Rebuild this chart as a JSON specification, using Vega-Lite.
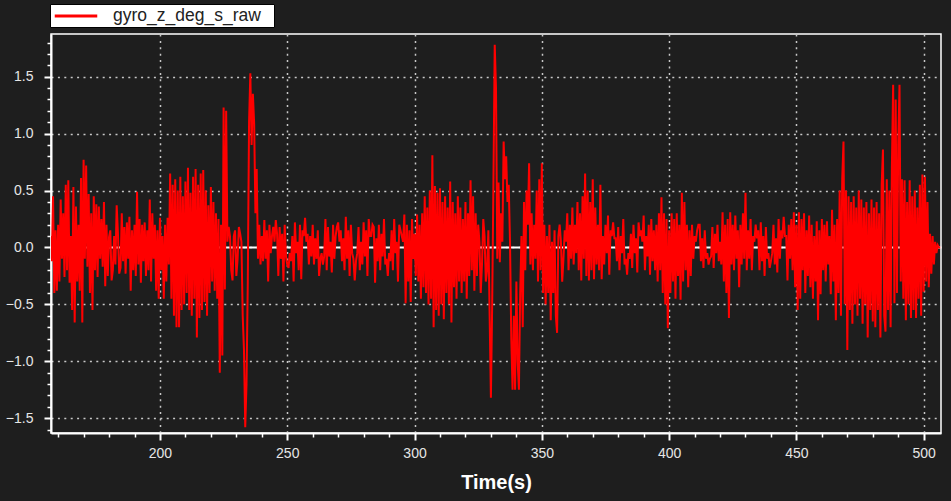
{
"$schema": "https://vega.github.io/schema/vega-lite/v6.json",
"width": 890, "height": 399,
"autosize": {"type": "none"},
"padding": {"left": 51, "top": 34, "right": 10, "bottom": 68},
"background": "#1e1e1e",
"config": {"view": {"stroke": "#ffffff", "strokeWidth": 1.5}, "font": "Liberation Sans"},
"data": {"values": [
{"t":157,"v":0.10},{"t":157.5,"v":-0.12},{"t":158,"v":0.45},{"t":158.5,"v":-0.40},{"t":159,"v":0.15},{"t":159.5,"v":-0.38},{"t":160,"v":0.20},{"t":160.5,"v":-0.30},{"t":161,"v":0.42},{"t":161.5,"v":-0.10},{"t":162,"v":0.30},{"t":162.5,"v":-0.26},{"t":163,"v":0.55},{"t":163.5,"v":-0.20},{"t":164,"v":0.59},{"t":164.5,"v":-0.31},{"t":165,"v":0.10},{"t":165.5,"v":-0.55},{"t":166,"v":0.53},{"t":166.5,"v":-0.66},{"t":167,"v":0.36},{"t":167.5,"v":-0.30},{"t":168,"v":0.20},{"t":168.5,"v":-0.38},{"t":169,"v":0.61},{"t":169.5,"v":-0.66},
{"t":170,"v":0.77},{"t":170.5,"v":-0.10},{"t":171,"v":0.72},{"t":171.5,"v":-0.17},{"t":172,"v":0.47},{"t":172.5,"v":-0.40},{"t":173,"v":0.30},{"t":173.5,"v":-0.55},{"t":174,"v":0.45},{"t":174.5,"v":-0.20},{"t":175,"v":0.38},{"t":175.5,"v":-0.26},{"t":176,"v":0.36},{"t":176.5,"v":-0.10},{"t":177,"v":0.25},{"t":177.5,"v":-0.17},{"t":178,"v":0.40},{"t":178.5,"v":-0.34},{"t":179,"v":0.20},{"t":179.5,"v":-0.25},
{"t":180,"v":0.09},{"t":180.5,"v":0.15},{"t":181,"v":-0.29},{"t":181.5,"v":-0.20},{"t":182,"v":0.10},{"t":182.5,"v":-0.15},{"t":183,"v":0.37},{"t":183.5,"v":0.12},{"t":184,"v":-0.23},{"t":184.5,"v":-0.18},{"t":185,"v":0.30},{"t":185.5,"v":-0.12},{"t":186,"v":0.18},{"t":186.5,"v":-0.23},{"t":187,"v":0.22},{"t":187.5,"v":-0.10},{"t":188,"v":0.27},{"t":188.5,"v":-0.38},{"t":189,"v":0.15},{"t":189.5,"v":-0.20},
{"t":190,"v":0.20},{"t":190.5,"v":-0.25},{"t":191,"v":0.49},{"t":191.5,"v":-0.15},{"t":192,"v":0.25},{"t":192.5,"v":-0.31},{"t":193,"v":0.20},{"t":193.5,"v":-0.12},{"t":194,"v":0.22},{"t":194.5,"v":-0.25},{"t":195,"v":0.15},{"t":195.5,"v":-0.20},{"t":196,"v":0.42},{"t":196.5,"v":-0.30},{"t":197,"v":0.30},{"t":197.5,"v":-0.10},{"t":198,"v":0.20},{"t":198.5,"v":-0.38},{"t":199,"v":0.15},{"t":199.5,"v":-0.45},
{"t":200,"v":0.26},{"t":200.5,"v":-0.20},{"t":201,"v":0.10},{"t":201.5,"v":-0.45},{"t":202,"v":0.20},{"t":202.5,"v":-0.30},{"t":203,"v":0.26},{"t":203.5,"v":-0.15},{"t":204,"v":0.65},{"t":204.5,"v":-0.45},{"t":205,"v":0.55},{"t":205.5,"v":-0.60},{"t":206,"v":0.60},{"t":206.5,"v":-0.70},{"t":207,"v":0.50},{"t":207.5,"v":-0.70},{"t":208,"v":0.62},{"t":208.5,"v":-0.55},{"t":209,"v":0.45},{"t":209.5,"v":-0.50},
{"t":210,"v":0.58},{"t":210.5,"v":-0.40},{"t":211,"v":0.70},{"t":211.5,"v":-0.55},{"t":212,"v":0.48},{"t":212.5,"v":-0.60},{"t":213,"v":0.62},{"t":213.5,"v":-0.45},{"t":214,"v":0.69},{"t":214.5,"v":-0.79},{"t":215,"v":0.55},{"t":215.5,"v":-0.62},{"t":216,"v":0.65},{"t":216.5,"v":-0.55},{"t":217,"v":0.68},{"t":217.5,"v":-0.48},{"t":218,"v":0.50},{"t":218.5,"v":-0.60},{"t":219,"v":0.37},{"t":219.5,"v":-0.40},
{"t":220,"v":0.53},{"t":220.5,"v":-0.30},{"t":221,"v":0.40},{"t":221.5,"v":-0.38},{"t":222,"v":0.30},{"t":222.5,"v":-0.45},{"t":223,"v":0.25},{"t":223.5,"v":-1.10},{"t":224,"v":0.20},{"t":224.5,"v":-0.95},{"t":225,"v":1.23},{"t":225.5,"v":-0.37},{"t":226,"v":1.20},{"t":226.5,"v":0.05},{"t":227,"v":0.18},{"t":227.5,"v":0.10},{"t":228,"v":-0.20},{"t":228.5,"v":-0.29},{"t":229,"v":0.10},{"t":229.5,"v":0.15},
{"t":230,"v":-0.25},{"t":230.5,"v":-0.10},{"t":231,"v":0.18},{"t":231.5,"v":0.12},{"t":232,"v":0.05},{"t":232.5,"v":-0.60},{"t":233,"v":-0.90},{"t":233.5,"v":-1.58},{"t":234,"v":-1.20},{"t":234.5,"v":-0.30},{"t":235,"v":1.10},{"t":235.5,"v":1.53},{"t":236,"v":0.90},{"t":236.5,"v":1.35},{"t":237,"v":1.09},{"t":237.5,"v":0.30},{"t":238,"v":0.69},{"t":238.5,"v":-0.10},{"t":239,"v":0.20},{"t":239.5,"v":-0.15},
{"t":240,"v":0.10},{"t":240.5,"v":-0.12},{"t":241,"v":0.24},{"t":241.5,"v":-0.10},{"t":242,"v":0.15},{"t":242.5,"v":-0.30},{"t":243,"v":0.20},{"t":243.5,"v":-0.05},{"t":244,"v":0.10},{"t":244.5,"v":0.18},{"t":245,"v":0.05},{"t":245.5,"v":0.24},{"t":246,"v":0.12},{"t":246.5,"v":-0.25},{"t":247,"v":0.18},{"t":247.5,"v":-0.10},{"t":248,"v":0.12},{"t":248.5,"v":-0.30},{"t":249,"v":0.20},{"t":249.5,"v":-0.08},
{"t":250,"v":-0.15},{"t":250.5,"v":-0.18},{"t":251,"v":-0.05},{"t":251.5,"v":-0.12},{"t":252,"v":0.10},{"t":252.5,"v":-0.30},{"t":253,"v":0.22},{"t":253.5,"v":-0.05},{"t":254,"v":0.05},{"t":254.5,"v":-0.20},{"t":255,"v":0.20},{"t":255.5,"v":-0.28},{"t":256,"v":0.15},{"t":256.5,"v":0.10},{"t":257,"v":0.26},{"t":257.5,"v":0.05},{"t":258,"v":0.12},{"t":258.5,"v":-0.15},{"t":259,"v":0.10},{"t":259.5,"v":-0.08},
{"t":260,"v":0.20},{"t":260.5,"v":-0.15},{"t":261,"v":0.08},{"t":261.5,"v":-0.10},{"t":262,"v":0.15},{"t":262.5,"v":-0.25},{"t":263,"v":-0.10},{"t":263.5,"v":-0.05},{"t":264,"v":-0.15},{"t":264.5,"v":-0.08},{"t":265,"v":0.25},{"t":265.5,"v":-0.20},{"t":266,"v":0.18},{"t":266.5,"v":-0.08},{"t":267,"v":0.05},{"t":267.5,"v":-0.22},{"t":268,"v":0.20},{"t":268.5,"v":-0.10},{"t":269,"v":0.10},{"t":269.5,"v":0.18},
{"t":270,"v":0.22},{"t":270.5,"v":0.05},{"t":271,"v":0.15},{"t":271.5,"v":-0.12},{"t":272,"v":0.08},{"t":272.5,"v":-0.20},{"t":273,"v":0.27},{"t":273.5,"v":-0.10},{"t":274,"v":0.15},{"t":274.5,"v":-0.25},{"t":275,"v":0.20},{"t":275.5,"v":-0.05},{"t":276,"v":-0.10},{"t":276.5,"v":-0.29},{"t":277,"v":-0.12},{"t":277.5,"v":-0.05},{"t":278,"v":0.18},{"t":278.5,"v":-0.20},{"t":279,"v":0.05},{"t":279.5,"v":-0.15},
{"t":280,"v":0.22},{"t":280.5,"v":-0.08},{"t":281,"v":0.15},{"t":281.5,"v":-0.25},{"t":282,"v":0.25},{"t":282.5,"v":0.10},{"t":283,"v":0.10},{"t":283.5,"v":0.20},{"t":284,"v":0.18},{"t":284.5,"v":-0.31},{"t":285,"v":0.08},{"t":285.5,"v":-0.12},{"t":286,"v":0.20},{"t":286.5,"v":-0.20},{"t":287,"v":0.12},{"t":287.5,"v":-0.08},{"t":288,"v":0.25},{"t":288.5,"v":-0.15},{"t":289,"v":-0.10},{"t":289.5,"v":-0.25},
{"t":290,"v":-0.05},{"t":290.5,"v":-0.12},{"t":291,"v":0.15},{"t":291.5,"v":-0.20},{"t":292,"v":0.25},{"t":292.5,"v":-0.05},{"t":293,"v":0.05},{"t":293.5,"v":-0.30},{"t":294,"v":0.20},{"t":294.5,"v":0.15},{"t":295,"v":0.10},{"t":295.5,"v":0.05},{"t":296,"v":0.29},{"t":296.5,"v":-0.49},{"t":297,"v":0.20},{"t":297.5,"v":-0.30},{"t":298,"v":0.15},{"t":298.5,"v":-0.48},{"t":299,"v":0.25},{"t":299.5,"v":-0.10},
{"t":300,"v":0.12},{"t":300.5,"v":-0.25},{"t":301,"v":0.29},{"t":301.5,"v":-0.30},{"t":302,"v":0.20},{"t":302.5,"v":-0.45},{"t":303,"v":0.30},{"t":303.5,"v":-0.35},{"t":304,"v":0.45},{"t":304.5,"v":-0.40},{"t":305,"v":0.35},{"t":305.5,"v":-0.50},{"t":306,"v":0.50},{"t":306.5,"v":-0.45},{"t":307,"v":0.81},{"t":307.5,"v":-0.70},{"t":308,"v":0.54},{"t":308.5,"v":-0.55},{"t":309,"v":0.48},{"t":309.5,"v":-0.60},
{"t":310,"v":0.52},{"t":310.5,"v":-0.50},{"t":311,"v":0.40},{"t":311.5,"v":-0.63},{"t":312,"v":0.45},{"t":312.5,"v":-0.40},{"t":313,"v":0.35},{"t":313.5,"v":-0.50},{"t":314,"v":0.58},{"t":314.5,"v":-0.66},{"t":315,"v":0.40},{"t":315.5,"v":-0.35},{"t":316,"v":0.30},{"t":316.5,"v":-0.45},{"t":317,"v":0.45},{"t":317.5,"v":-0.30},{"t":318,"v":0.35},{"t":318.5,"v":-0.40},{"t":319,"v":0.25},{"t":319.5,"v":-0.30},
{"t":320,"v":0.40},{"t":320.5,"v":-0.45},{"t":321,"v":0.30},{"t":321.5,"v":-0.25},{"t":322,"v":0.59},{"t":322.5,"v":-0.20},{"t":323,"v":0.45},{"t":323.5,"v":-0.38},{"t":324,"v":0.30},{"t":324.5,"v":-0.25},{"t":325,"v":0.20},{"t":325.5,"v":0.05},{"t":326,"v":-0.40},{"t":326.5,"v":-0.15},{"t":327,"v":0.25},{"t":327.5,"v":0.10},{"t":328,"v":-0.30},{"t":328.5,"v":-0.20},{"t":329,"v":0.15},{"t":329.5,"v":-0.60},
{"t":330,"v":-1.32},{"t":330.5,"v":-0.50},{"t":331,"v":0.60},{"t":331.5,"v":1.78},{"t":332,"v":1.40},{"t":332.5,"v":-0.10},{"t":333,"v":0.57},{"t":333.5,"v":-0.13},{"t":334,"v":0.30},{"t":334.5,"v":0.05},{"t":335,"v":0.93},{"t":335.5,"v":0.60},{"t":336,"v":0.80},{"t":336.5,"v":0.40},{"t":337,"v":0.55},{"t":337.5,"v":0.05},{"t":338,"v":-0.80},{"t":338.5,"v":-1.25},{"t":339,"v":-0.60},{"t":339.5,"v":-1.25},
{"t":340,"v":-0.30},{"t":340.5,"v":-1.00},{"t":341,"v":-1.25},{"t":341.5,"v":-0.40},{"t":342,"v":0.10},{"t":342.5,"v":-0.70},{"t":343,"v":0.40},{"t":343.5,"v":-0.20},{"t":344,"v":0.50},{"t":344.5,"v":0.20},{"t":345,"v":0.74},{"t":345.5,"v":-0.15},{"t":346,"v":0.30},{"t":346.5,"v":-0.20},{"t":347,"v":0.20},{"t":347.5,"v":-0.10},{"t":348,"v":0.50},{"t":348.5,"v":-0.30},{"t":349,"v":0.60},{"t":349.5,"v":-0.20},
{"t":350,"v":0.74},{"t":350.5,"v":-0.40},{"t":351,"v":0.20},{"t":351.5,"v":-0.50},{"t":352,"v":0.10},{"t":352.5,"v":-0.40},{"t":353,"v":0.20},{"t":353.5,"v":-0.64},{"t":354,"v":0.05},{"t":354.5,"v":-0.40},{"t":355,"v":0.15},{"t":355.5,"v":-0.60},{"t":356,"v":-0.75},{"t":356.5,"v":0.10},{"t":357,"v":0.20},{"t":357.5,"v":0.05},{"t":358,"v":-0.30},{"t":358.5,"v":-0.10},{"t":359,"v":0.15},{"t":359.5,"v":0.05},
{"t":360,"v":0.30},{"t":360.5,"v":-0.20},{"t":361,"v":0.20},{"t":361.5,"v":-0.10},{"t":362,"v":0.35},{"t":362.5,"v":-0.15},{"t":363,"v":0.20},{"t":363.5,"v":-0.05},{"t":364,"v":0.40},{"t":364.5,"v":-0.20},{"t":365,"v":0.30},{"t":365.5,"v":-0.29},{"t":366,"v":0.45},{"t":366.5,"v":-0.10},{"t":367,"v":0.65},{"t":367.5,"v":-0.25},{"t":368,"v":0.50},{"t":368.5,"v":-0.29},{"t":369,"v":0.40},{"t":369.5,"v":-0.20},
{"t":370,"v":0.60},{"t":370.5,"v":-0.28},{"t":371,"v":0.35},{"t":371.5,"v":-0.15},{"t":372,"v":0.20},{"t":372.5,"v":-0.20},{"t":373,"v":0.55},{"t":373.5,"v":-0.28},{"t":374,"v":0.10},{"t":374.5,"v":-0.15},{"t":375,"v":0.20},{"t":375.5,"v":-0.05},{"t":376,"v":0.28},{"t":376.5,"v":-0.24},{"t":377,"v":0.15},{"t":377.5,"v":0.10},{"t":378,"v":0.22},{"t":378.5,"v":0.08},{"t":379,"v":0.08},{"t":379.5,"v":-0.12},
{"t":380,"v":0.18},{"t":380.5,"v":-0.20},{"t":381,"v":0.10},{"t":381.5,"v":-0.05},{"t":382,"v":0.25},{"t":382.5,"v":-0.15},{"t":383,"v":-0.10},{"t":383.5,"v":-0.24},{"t":384,"v":-0.05},{"t":384.5,"v":-0.10},{"t":385,"v":0.12},{"t":385.5,"v":-0.18},{"t":386,"v":0.20},{"t":386.5,"v":-0.05},{"t":387,"v":0.08},{"t":387.5,"v":-0.22},{"t":388,"v":0.22},{"t":388.5,"v":0.10},{"t":389,"v":0.15},{"t":389.5,"v":0.05},
{"t":390,"v":0.28},{"t":390.5,"v":-0.20},{"t":391,"v":0.10},{"t":391.5,"v":-0.08},{"t":392,"v":0.20},{"t":392.5,"v":-0.24},{"t":393,"v":0.25},{"t":393.5,"v":-0.12},{"t":394,"v":0.15},{"t":394.5,"v":-0.20},{"t":395,"v":0.20},{"t":395.5,"v":-0.30},{"t":396,"v":0.30},{"t":396.5,"v":-0.20},{"t":397,"v":0.44},{"t":397.5,"v":-0.40},{"t":398,"v":0.30},{"t":398.5,"v":-0.50},{"t":399,"v":0.25},{"t":399.5,"v":-0.71},
{"t":400,"v":0.15},{"t":400.5,"v":-0.40},{"t":401,"v":0.30},{"t":401.5,"v":-0.30},{"t":402,"v":0.25},{"t":402.5,"v":-0.45},{"t":403,"v":0.30},{"t":403.5,"v":-0.25},{"t":404,"v":0.20},{"t":404.5,"v":-0.46},{"t":405,"v":0.48},{"t":405.5,"v":-0.30},{"t":406,"v":0.40},{"t":406.5,"v":-0.20},{"t":407,"v":0.20},{"t":407.5,"v":-0.35},{"t":408,"v":0.15},{"t":408.5,"v":-0.25},{"t":409,"v":0.20},{"t":409.5,"v":-0.10},
{"t":410,"v":0.10},{"t":410.5,"v":0.05},{"t":411,"v":0.15},{"t":411.5,"v":0.20},{"t":412,"v":0.20},{"t":412.5,"v":-0.12},{"t":413,"v":0.08},{"t":413.5,"v":-0.18},{"t":414,"v":0.15},{"t":414.5,"v":-0.10},{"t":415,"v":-0.05},{"t":415.5,"v":-0.15},{"t":416,"v":-0.10},{"t":416.5,"v":-0.08},{"t":417,"v":0.18},{"t":417.5,"v":-0.18},{"t":418,"v":0.12},{"t":418.5,"v":-0.05},{"t":419,"v":0.20},{"t":419.5,"v":-0.12},
{"t":420,"v":0.05},{"t":420.5,"v":-0.15},{"t":421,"v":0.31},{"t":421.5,"v":-0.30},{"t":422,"v":0.20},{"t":422.5,"v":-0.40},{"t":423,"v":0.25},{"t":423.5,"v":-0.62},{"t":424,"v":0.31},{"t":424.5,"v":-0.15},{"t":425,"v":0.20},{"t":425.5,"v":-0.20},{"t":426,"v":0.28},{"t":426.5,"v":-0.10},{"t":427,"v":0.15},{"t":427.5,"v":-0.35},{"t":428,"v":0.20},{"t":428.5,"v":-0.15},{"t":429,"v":0.30},{"t":429.5,"v":-0.10},
{"t":430,"v":0.48},{"t":430.5,"v":-0.20},{"t":431,"v":0.15},{"t":431.5,"v":-0.10},{"t":432,"v":0.25},{"t":432.5,"v":-0.20},{"t":433,"v":0.10},{"t":433.5,"v":0.05},{"t":434,"v":0.20},{"t":434.5,"v":0.08},{"t":435,"v":0.15},{"t":435.5,"v":-0.20},{"t":436,"v":0.22},{"t":436.5,"v":-0.12},{"t":437,"v":0.10},{"t":437.5,"v":-0.25},{"t":438,"v":0.18},{"t":438.5,"v":-0.10},{"t":439,"v":-0.05},{"t":439.5,"v":-0.18},
{"t":440,"v":-0.12},{"t":440.5,"v":-0.05},{"t":441,"v":0.20},{"t":441.5,"v":-0.15},{"t":442,"v":0.08},{"t":442.5,"v":-0.22},{"t":443,"v":0.25},{"t":443.5,"v":-0.10},{"t":444,"v":0.15},{"t":444.5,"v":0.08},{"t":445,"v":0.27},{"t":445.5,"v":0.10},{"t":446,"v":0.10},{"t":446.5,"v":-0.29},{"t":447,"v":0.20},{"t":447.5,"v":-0.10},{"t":448,"v":0.25},{"t":448.5,"v":-0.20},{"t":449,"v":0.31},{"t":449.5,"v":-0.35},
{"t":450,"v":0.20},{"t":450.5,"v":-0.55},{"t":451,"v":0.31},{"t":451.5,"v":-0.45},{"t":452,"v":0.25},{"t":452.5,"v":-0.20},{"t":453,"v":0.30},{"t":453.5,"v":-0.40},{"t":454,"v":0.15},{"t":454.5,"v":-0.25},{"t":455,"v":0.28},{"t":455.5,"v":-0.35},{"t":456,"v":0.20},{"t":456.5,"v":-0.45},{"t":457,"v":0.10},{"t":457.5,"v":-0.30},{"t":458,"v":0.23},{"t":458.5,"v":-0.64},{"t":459,"v":0.15},{"t":459.5,"v":-0.41},
{"t":460,"v":0.25},{"t":460.5,"v":-0.20},{"t":461,"v":0.20},{"t":461.5,"v":-0.30},{"t":462,"v":0.23},{"t":462.5,"v":-0.15},{"t":463,"v":0.10},{"t":463.5,"v":-0.41},{"t":464,"v":0.33},{"t":464.5,"v":-0.30},{"t":465,"v":0.20},{"t":465.5,"v":-0.64},{"t":466,"v":0.25},{"t":466.5,"v":-0.40},{"t":467,"v":0.50},{"t":467.5,"v":-0.60},{"t":468,"v":0.60},{"t":468.5,"v":0.93},{"t":469,"v":-0.50},{"t":469.5,"v":0.50},
{"t":470,"v":-0.90},{"t":470.5,"v":0.45},{"t":471,"v":-0.55},{"t":471.5,"v":0.40},{"t":472,"v":-0.67},{"t":472.5,"v":0.45},{"t":473,"v":-0.50},{"t":473.5,"v":0.35},{"t":474,"v":-0.60},{"t":474.5,"v":0.50},{"t":475,"v":-0.45},{"t":475.5,"v":0.42},{"t":476,"v":-0.67},{"t":476.5,"v":0.35},{"t":477,"v":-0.50},{"t":477.5,"v":0.40},{"t":478,"v":-0.79},{"t":478.5,"v":0.30},{"t":479,"v":-0.55},{"t":479.5,"v":0.42},
{"t":480,"v":-0.65},{"t":480.5,"v":0.35},{"t":481,"v":-0.70},{"t":481.5,"v":0.40},{"t":482,"v":-0.55},{"t":482.5,"v":0.30},{"t":483,"v":-0.79},{"t":483.5,"v":0.55},{"t":484,"v":0.86},{"t":484.5,"v":-0.60},{"t":485,"v":-0.74},{"t":485.5,"v":0.60},{"t":486,"v":-0.55},{"t":486.5,"v":0.50},{"t":487,"v":-0.70},{"t":487.5,"v":0.70},{"t":488,"v":1.43},{"t":488.5,"v":-0.49},{"t":489,"v":1.30},{"t":489.5,"v":-0.40},
{"t":490,"v":0.90},{"t":490.5,"v":1.43},{"t":491,"v":-0.30},{"t":491.5,"v":0.60},{"t":492,"v":-0.45},{"t":492.5,"v":0.59},{"t":493,"v":-0.64},{"t":493.5,"v":0.40},{"t":494,"v":-0.50},{"t":494.5,"v":0.59},{"t":495,"v":-0.62},{"t":495.5,"v":0.45},{"t":496,"v":-0.55},{"t":496.5,"v":0.50},{"t":497,"v":-0.62},{"t":497.5,"v":0.35},{"t":498,"v":-0.45},{"t":498.5,"v":0.55},{"t":499,"v":-0.60},{"t":499.5,"v":0.64},
{"t":500,"v":-0.39},{"t":500.5,"v":0.62},{"t":501,"v":-0.30},{"t":501.5,"v":0.40},{"t":502,"v":-0.35},{"t":502.5,"v":0.12},{"t":503,"v":-0.23},{"t":503.5,"v":0.10},{"t":504,"v":-0.15},{"t":504.5,"v":0.05},{"t":505,"v":-0.05},{"t":505.5,"v":0.02},{"t":506,"v":0.00},{"t":506.5,"v":0.00}
]},
"layer": [
{"mark": {"type": "line", "strokeWidth": 2, "clip": true},
 "encoding": {
  "x": {"field": "t", "type": "quantitative", "scale": {"domain": [157.2, 506.8], "nice": false, "zero": false},
   "axis": {"orient": "bottom", "values": [200,250,300,350,400,450,500], "title": "Time(s)", "titleFont": "Liberation Sans", "titleFontSize": 20, "titleFontWeight": "bold", "titleColor": "#ffffff", "titlePadding": 12, "labelFont": "Liberation Sans", "labelFontSize": 14, "labelColor": "#e6e6e6", "labelPadding": 6, "labelFlush": false, "labelOverlap": false, "tickSize": 7, "tickColor": "#ffffff", "tickWidth": 2, "domainColor": "#ffffff", "domainWidth": 2, "grid": true, "gridColor": "#c8c8c8", "gridDash": [2, 4.4], "gridWidth": 1.5}},
  "y": {"field": "v", "type": "quantitative", "scale": {"domain": [-1.63, 1.875], "nice": false, "zero": false},
   "axis": {"orient": "left", "values": [-1.5,-1,-0.5,0,0.5,1,1.5], "format": ".1f", "title": null, "labelFont": "Liberation Sans", "labelFontSize": 14, "labelColor": "#e6e6e6", "labelPadding": 11, "labelFlush": false, "labelOverlap": false, "tickSize": 7, "tickColor": "#ffffff", "tickWidth": 2, "domainColor": "#ffffff", "domainWidth": 2, "grid": true, "gridColor": "#c8c8c8", "gridDash": [2, 4.4], "gridWidth": 1.5}},
  "color": {"datum": "gyro_z_deg_s_raw", "type": "nominal", "scale": {"range": ["#ff0000"]},
   "legend": {"orient": "none", "legendX": -1, "legendY": -30, "title": "\u00a0", "titleOrient": "right", "titleFontSize": 1, "titlePadding": 11, "symbolType": "M-2.5,0H2.5", "symbolSize": 289, "symbolStrokeWidth": 3, "symbolOffset": 14, "labelOffset": 27, "labelFont": "Liberation Sans", "labelFontSize": 17.5, "labelColor": "#222222", "labelLimit": 400, "padding": 2, "fillColor": "#ffffff", "strokeColor": "#000000", "cornerRadius": 0}}
 }},
{"mark": {"type": "line", "opacity": 0},
 "encoding": {
  "x": {"field": "t", "type": "quantitative", "axis": {"orient": "bottom", "values": [160,170,180,190,210,220,230,240,260,270,280,290,310,320,330,340,360,370,380,390,410,420,430,440,460,470,480,490], "labels": false, "title": null, "domain": false, "grid": false, "tickSize": 4, "tickColor": "#ffffff", "tickWidth": 1.5}},
  "y": {"field": "v", "type": "quantitative", "axis": {"orient": "left", "values": [-1.6,-1.4,-1.3,-1.2,-1.1,-0.9,-0.8,-0.7,-0.6,-0.4,-0.3,-0.2,-0.1,0.1,0.2,0.3,0.4,0.6,0.7,0.8,0.9,1.1,1.2,1.3,1.4,1.6,1.7,1.8], "labels": false, "title": null, "domain": false, "grid": false, "tickSize": 4, "tickColor": "#ffffff", "tickWidth": 1.5}}
 }},
{"mark": {"type": "line", "opacity": 0},
 "encoding": {
  "x": {"field": "t", "type": "quantitative", "axis": null},
  "y": {"field": "v", "type": "quantitative", "axis": {"orient": "left", "values": [0], "labels": false, "title": null, "domain": false, "ticks": false, "grid": true, "gridColor": "#ffffff", "gridWidth": 2, "gridDash": []}}
 }}
],
"resolve": {"axis": {"x": "independent", "y": "independent"}}
}
